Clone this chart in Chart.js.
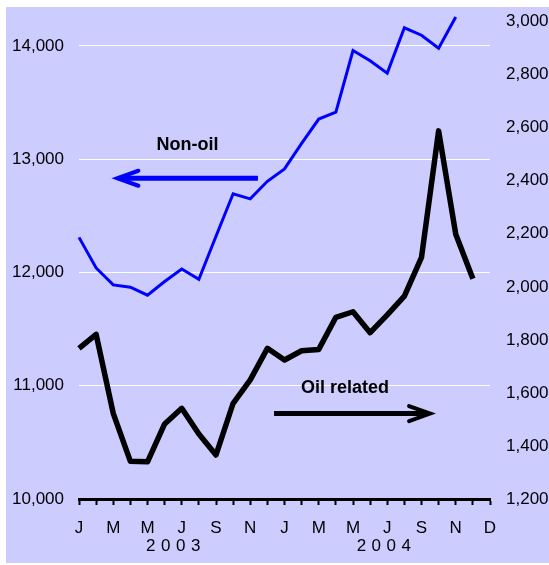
<!DOCTYPE html>
<html>
<head>
<meta charset="utf-8">
<script src="https://cdn.jsdelivr.net/npm/chart.js@4.4.0/dist/chart.umd.min.js"></script>
<style>
  html, body { margin: 0; padding: 0; background: #fff; }
  #wrap { position: absolute; left: 0; top: 0; width: 549px; height: 565px; }
</style>
</head>
<body>
<div id="wrap"><canvas id="chart" width="549" height="565"></canvas></div>
<script>
// ── data ────────────────────────────────────────────────────────────────
// one slot per month, Jan 2003 .. Jan 2005 (last slot only carries the "D" label)
const monthLabels = ['J','','M','','M','','J','','S','','N','','J','','M','','M','','J','','S','','N','','D'];
const yearLabels  = ['2003', '2004'];
const yearCenters = [5.5, 17.8];   // in month-slot units

// Non-oil, left axis
const nonOil = [12310, 12040, 11890, 11870, 11800, 11920, 12030, 11940, 12320, 12695,
                12650, 12805, 12915, 13140, 13355, 13415, 13960, 13870, 13760, 14160,
                14095, 13980, 14255];
// Oil related, right axis
const oilRelated = [1768, 1821, 1523, 1342, 1340, 1483, 1542, 1445, 1366, 1561,
                    1649, 1768, 1724, 1759, 1764, 1885, 1906, 1827, 1894, 1965,
                    2111, 2588, 2198, 2030];

const leftTickValues  = [10000, 11000, 12000, 13000, 14000];
const rightTickValues = [1200, 1400, 1600, 1800, 2000, 2200, 2400, 2600, 2800, 3000];
const leftRange  = [10000, 14344];
const rightRange = [1200, 3055];

// annotation text + arrows, placed in data units
const notes  = [
  { text: 'Non-oil',     at: 6.34,  v: 13127, axis: 'yL' },
  { text: 'Oil related', at: 15.53, v: 1619,  axis: 'yR' },
];
const arrows = [
  { from: 10.45, to: 2.24, v: 12832, axis: 'yL', color: '#0000ff' },
  { from: 11.39, to: 20.5, v: 1522,  axis: 'yR', color: '#000000' },
];

const FONT = "'Liberation Sans', Arial, sans-serif";
const fmt = v => Number(v).toLocaleString('en-US');

// ── helpers ─────────────────────────────────────────────────────────────
function drawArrow(c, x0, x1, y, color) {
  const dir = x1 > x0 ? 1 : -1;
  c.save();
  c.strokeStyle = color;
  c.lineWidth = 5;
  c.lineCap = 'butt';
  c.beginPath(); c.moveTo(x0, y); c.lineTo(x1 - dir * 2, y); c.stroke();
  c.lineWidth = 4;
  c.lineCap = 'round';
  c.lineJoin = 'miter';
  c.beginPath();
  c.moveTo(x1 - dir * 21, y - 7.5);
  c.lineTo(x1, y);
  c.lineTo(x1 - dir * 21, y + 7.5);
  c.stroke();
  c.restore();
}

const decor = {
  id: 'decor',
  beforeDraw(chart) {
    const c = chart.ctx;
    c.save();
    c.fillStyle = '#ccccff';
    c.fillRect(6, 7, 543, 556);
    c.restore();
  },
  afterDatasetsDraw(chart) {
    const c = chart.ctx;
    const x = chart.scales.x;
    arrows.forEach(a => {
      const y = chart.scales[a.axis].getPixelForValue(a.v);
      drawArrow(c, x.getPixelForValue(a.from), x.getPixelForValue(a.to), y, a.color);
    });
    c.save();
    c.fillStyle = '#000';
    c.font = 'bold 18px ' + FONT;
    c.textAlign = 'center';
    c.textBaseline = 'middle';
    notes.forEach(n => {
      c.fillText(n.text, x.getPixelForValue(n.at), chart.scales[n.axis].getPixelForValue(n.v));
    });
    // year captions under the month letters
    c.font = '17px ' + FONT;
    c.letterSpacing = '5.5px';
    c.textAlign = 'left';
    yearLabels.forEach((t, i) => {
      const w = c.measureText(t).width - 5.5;
      c.fillText(t, x.getPixelForValue(yearCenters[i]) - w / 2, x.top + 47);
    });
    c.restore();
  }
};

// ── chart ───────────────────────────────────────────────────────────────
new Chart(document.getElementById('chart'), {
  type: 'line',
  data: {
    labels: monthLabels,
    datasets: [
      { label: 'Non-oil', data: nonOil, yAxisID: 'yL', borderColor: '#0000ff', borderWidth: 3,
        pointRadius: 0, tension: 0, fill: false, borderJoinStyle: 'miter' },
      { label: 'Oil related', data: oilRelated, yAxisID: 'yR', borderColor: '#000000', borderWidth: 5.5,
        pointRadius: 0, tension: 0, fill: false, borderJoinStyle: 'round' },
    ]
  },
  options: {
    responsive: false,
    animation: false,
    devicePixelRatio: 1,
    layout: { padding: { top: 7, left: 0, right: 0, bottom: 0 } },
    plugins: { legend: { display: false }, tooltip: { enabled: false } },
    scales: {
      x: {
        type: 'category',
        offset: false,
        grid: { drawOnChartArea: false, drawTicks: true, tickLength: 6, tickColor: '#000', tickWidth: 2, offset: false },
        border: { display: true, color: '#000', width: 3 },
        ticks: { color: '#000', font: { family: FONT, size: 17 }, padding: 13, autoSkip: false, maxRotation: 0 },
        afterFit: s => { s.height = 66; s.paddingLeft = 0; s.paddingRight = 0; }
      },
      yL: {
        position: 'left',
        min: leftRange[0], max: leftRange[1],
        grid: { drawTicks: false, color: ctx => ctx.tick && ctx.tick.value === leftRange[0] ? 'rgba(0,0,0,0)' : '#ffffff', lineWidth: 1 },
        border: { display: false },
        ticks: { color: '#000', padding: 15, font: { family: FONT, size: 17 }, callback: fmt },
        afterBuildTicks: s => { s.ticks = leftTickValues.map(v => ({ value: v })); },
        afterFit: s => { s.width = 79; s.paddingTop = 0; s.paddingBottom = 0; }
      },
      yR: {
        position: 'right',
        min: rightRange[0], max: rightRange[1],
        grid: { display: false, drawTicks: false },
        border: { display: false },
        ticks: { color: '#000', padding: 16, font: { family: FONT, size: 17 }, callback: fmt },
        afterBuildTicks: s => { s.ticks = rightTickValues.map(v => ({ value: v })); },
        afterFit: s => { s.width = 59; s.paddingTop = 0; s.paddingBottom = 0; }
      }
    }
  },
  plugins: [decor]
});
</script>
</body>
</html>
